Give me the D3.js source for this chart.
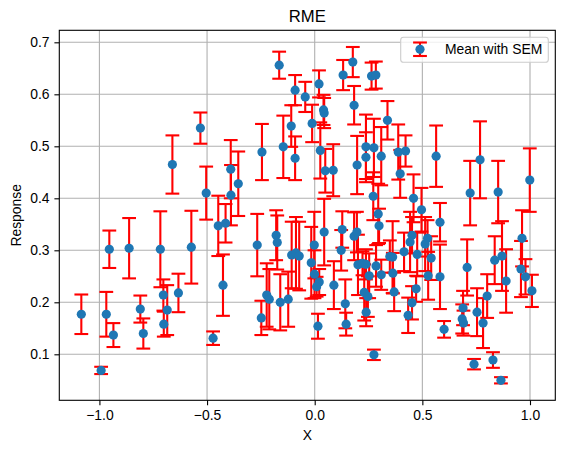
<!DOCTYPE html>
<html>
<head>
<meta charset="utf-8">
<script src="https://cdn.jsdelivr.net/npm/d3@7"></script>
<style>
  body { margin: 0; background: white; }
  svg { display: block; font-family: "Liberation Sans", Arial, sans-serif; }
</style>
</head>
<body>
<svg id="chart"></svg>
<script>
// x position, mean response and standard error of each point
const xs = [
  -1.084, -0.992, -0.954, -0.968, -0.935, -0.862, -0.810, -0.796, -0.717, -0.703,
  -0.685, -0.701, -0.633, -0.573, -0.472, -0.448, -0.414, -0.426, -0.531, -0.661,
  -0.504, -0.390, -0.389, -0.355, -0.245, -0.165, -0.146, -0.109, -0.091, -0.091,
  -0.044, -0.012, 0.020, 0.026, 0.041, 0.044, 0.049, 0.086, 0.132, 0.177,
  0.183, 0.197, 0.238, 0.238, 0.264, 0.284, 0.275, 0.309, 0.338, 0.272,
  0.295, 0.299, 0.388, 0.422, 0.397, 0.459, 0.496, 0.564, 0.722, 0.768,
  0.852, 0.999, 0.582, 0.452, 0.443, 0.524, 0.513, 0.415, 0.476, 0.362,
  0.541, 0.363, 0.369, 0.527, 0.582, 0.471, 0.452, 0.434, 0.601, 0.708,
  0.689, 0.685, 0.691, 0.754, 0.782, 0.801, 0.836, 0.870, 0.889, 0.740,
  0.828, 0.865, 0.963, 0.958, 0.979, 1.009, -0.267, -0.223, -0.211, -0.248,
  -0.179, -0.174, -0.160, -0.123, -0.107, -0.087, -0.072, -0.002, 0.044, -0.016,
  -0.001, 0.021, 0.009, 0.015, 0.089, 0.128, 0.123, 0.142, 0.146, 0.183,
  0.196, 0.201, 0.222, 0.238, 0.253, 0.230, 0.247, 0.239, 0.285, 0.309,
  0.275, 0.349
];
const means = [
  0.177, 0.069, 0.302, 0.177, 0.137, 0.304, 0.187, 0.140, 0.302, 0.214,
  0.185, 0.158, 0.218, 0.306, 0.131, 0.347, 0.352, 0.233, 0.535, 0.465,
  0.410, 0.456, 0.406, 0.428, 0.489, 0.656, 0.499, 0.539, 0.608, 0.477,
  0.595, 0.544, 0.620, 0.492, 0.570, 0.564, 0.453, 0.454, 0.637, 0.662,
  0.579, 0.464, 0.499, 0.479, 0.635, 0.637, 0.497, 0.481, 0.550, 0.404,
  0.370, 0.347, 0.489, 0.491, 0.447, 0.400, 0.378, 0.481, 0.410, 0.474,
  0.412, 0.435, 0.354, 0.329, 0.316, 0.323, 0.312, 0.297, 0.292, 0.287,
  0.285, 0.256, 0.220, 0.251, 0.249, 0.226, 0.199, 0.175, 0.148, 0.267,
  0.189, 0.168, 0.160, 0.181, 0.160, 0.212, 0.281, 0.289, 0.241, 0.081,
  0.089, 0.050, 0.323, 0.264, 0.249, 0.222, 0.310, 0.214, 0.206, 0.170,
  0.329, 0.315, 0.200, 0.206, 0.291, 0.295, 0.289, 0.310, 0.335, 0.276,
  0.254, 0.239, 0.230, 0.154, 0.233, 0.340, 0.300, 0.197, 0.158, 0.327,
  0.335, 0.272, 0.275, 0.273, 0.251, 0.219, 0.211, 0.181, 0.270, 0.253,
  0.099, 0.288
];
const sems = [
  0.038, 0.007, 0.036, 0.043, 0.023, 0.058, 0.026, 0.029, 0.073, 0.030,
  0.048, 0.024, 0.037, 0.070, 0.013, 0.058, 0.037, 0.059, 0.030, 0.056,
  0.051, 0.056, 0.058, 0.062, 0.054, 0.026, 0.060, 0.040, 0.029, 0.042,
  0.029, 0.036, 0.026, 0.054, 0.029, 0.029, 0.042, 0.050, 0.029, 0.029,
  0.037, 0.056, 0.062, 0.048, 0.026, 0.026, 0.056, 0.056, 0.037, 0.046,
  0.058, 0.033, 0.053, 0.030, 0.046, 0.046, 0.042, 0.059, 0.062, 0.074,
  0.060, 0.061, 0.037, 0.035, 0.058, 0.035, 0.052, 0.037, 0.042, 0.069,
  0.042, 0.039, 0.037, 0.046, 0.062, 0.025, 0.032, 0.034, 0.016, 0.054,
  0.033, 0.028, 0.024, 0.046, 0.048, 0.042, 0.046, 0.067, 0.061, 0.010,
  0.015, 0.006, 0.054, 0.054, 0.034, 0.031, 0.060, 0.061, 0.058, 0.033,
  0.048, 0.052, 0.054, 0.053, 0.064, 0.069, 0.066, 0.064, 0.064, 0.069,
  0.046, 0.025, 0.019, 0.024, 0.046, 0.035, 0.039, 0.047, 0.022, 0.046,
  0.039, 0.058, 0.023, 0.029, 0.043, 0.054, 0.039, 0.027, 0.040, 0.029,
  0.010, 0.031
];
const xTicks = [-1.0, -0.5, 0.0, 0.5, 1.0];
const yTicks = [0.1, 0.2, 0.3, 0.4, 0.5, 0.6, 0.7];

const width = 564
const height = 453
const margin = { top: 30.3, left: 59.3, right: 8.7, bottom: 52.7 }
const innerWidth = width - margin.left - margin.right
const innerHeight = height - margin.top - margin.bottom

const points = xs.map((x, i) => ({ x: x, mean: means[i], sem: sems[i] }))

const svg = d3.select('#chart')
    .attr('width', width)
    .attr('height', height)

const x = d3.scaleLinear()
    .domain([-1.1863, 1.1175])
    .range([0, innerWidth])

const y = d3.scaleLinear()
    .domain([0.01154, 0.7231])
    .range([innerHeight, 0])

const g = svg.append('g')
    .attr('transform', `translate(${margin.left},${margin.top})`)

// grid
g.append('g')
    .selectAll('line')
    .data(xTicks)
    .join('line')
    .attr('x1', d => x(d)).attr('x2', d => x(d))
    .attr('y1', 0).attr('y2', innerHeight)
    .attr('stroke', '#b0b0b0').attr('stroke-width', 1.1)

g.append('g')
    .selectAll('line')
    .data(yTicks)
    .join('line')
    .attr('x1', 0).attr('x2', innerWidth)
    .attr('y1', d => y(d)).attr('y2', d => y(d))
    .attr('stroke', '#b0b0b0').attr('stroke-width', 1.1)

// error bars
const capHalf = 6.9
const bars = g.append('g')
    .attr('stroke', 'red')
    .attr('stroke-width', 2.1)

bars.selectAll('.bar')
    .data(points)
    .join('line')
    .attr('class', 'bar')
    .attr('x1', d => x(d.x)).attr('x2', d => x(d.x))
    .attr('y1', d => y(d.mean - d.sem)).attr('y2', d => y(d.mean + d.sem))

bars.selectAll('.cap-top')
    .data(points)
    .join('line')
    .attr('class', 'cap-top')
    .attr('x1', d => x(d.x) - capHalf).attr('x2', d => x(d.x) + capHalf)
    .attr('y1', d => y(d.mean + d.sem)).attr('y2', d => y(d.mean + d.sem))

bars.selectAll('.cap-bottom')
    .data(points)
    .join('line')
    .attr('class', 'cap-bottom')
    .attr('x1', d => x(d.x) - capHalf).attr('x2', d => x(d.x) + capHalf)
    .attr('y1', d => y(d.mean - d.sem)).attr('y2', d => y(d.mean - d.sem))

// markers
g.append('g')
    .selectAll('circle')
    .data(points)
    .join('circle')
    .attr('cx', d => x(d.x))
    .attr('cy', d => y(d.mean))
    .attr('r', 4.6)
    .attr('fill', '#1f77b4')

// axes
const xAxis = g.append('g')
    .attr('transform', `translate(0,${innerHeight})`)
    .call(d3.axisBottom(x).tickValues(xTicks).tickFormat(d3.format('.1f')).tickSize(4.9).tickPadding(4.9))
const yAxis = g.append('g')
    .call(d3.axisLeft(y).tickValues(yTicks).tickFormat(d3.format('.1f')).tickSize(4.9).tickPadding(4.9))

for (const ax of [xAxis, yAxis]) {
    ax.select('.domain').remove()
    ax.selectAll('line').attr('stroke', 'black').attr('stroke-width', 1.1)
    ax.selectAll('text')
        .attr('fill', 'black')
        .style('font-size', '13.9px')
        .style('font-family', '"Liberation Sans", Arial, sans-serif')
}

// frame
g.append('rect')
    .attr('width', innerWidth)
    .attr('height', innerHeight)
    .attr('fill', 'none')
    .attr('stroke', 'black')
    .attr('stroke-width', 1.1)

// labels
svg.append('text')
    .attr('x', margin.left + innerWidth / 2)
    .attr('y', 22)
    .attr('text-anchor', 'middle')
    .style('font-size', '16.7px')
    .text('RME')

svg.append('text')
    .attr('x', margin.left + innerWidth / 2)
    .attr('y', 440)
    .attr('text-anchor', 'middle')
    .style('font-size', '13.9px')
    .text('X')

svg.append('text')
    .attr('transform', `translate(20.5,${margin.top + innerHeight / 2}) rotate(-90)`)
    .attr('text-anchor', 'middle')
    .style('font-size', '13.9px')
    .text('Response')

// legend
const legend = svg.append('g').attr('id', 'legend')
legend.append('rect')
    .attr('x', 400.7).attr('y', 37.3)
    .attr('width', 147.6).attr('height', 25)
    .attr('rx', 2.8)
    .attr('fill', 'white').attr('fill-opacity', 0.8)
    .attr('stroke', '#cccccc').attr('stroke-width', 1.1)
legend.append('line')
    .attr('x1', 420).attr('x2', 420).attr('y1', 42.5).attr('y2', 56)
    .attr('stroke', 'red').attr('stroke-width', 2.1)
legend.selectAll('.lcap')
    .data([42.5, 56])
    .join('line')
    .attr('class', 'lcap')
    .attr('x1', 420 - capHalf).attr('x2', 420 + capHalf)
    .attr('y1', d => d).attr('y2', d => d)
    .attr('stroke', 'red').attr('stroke-width', 2.1)
legend.append('circle')
    .attr('cx', 420).attr('cy', 49.3).attr('r', 4.6)
    .attr('fill', '#1f77b4')
legend.append('text')
    .attr('x', 445).attr('y', 54.2)
    .style('font-size', '13.9px')
    .text('Mean with SEM')
</script>
</body>
</html>
